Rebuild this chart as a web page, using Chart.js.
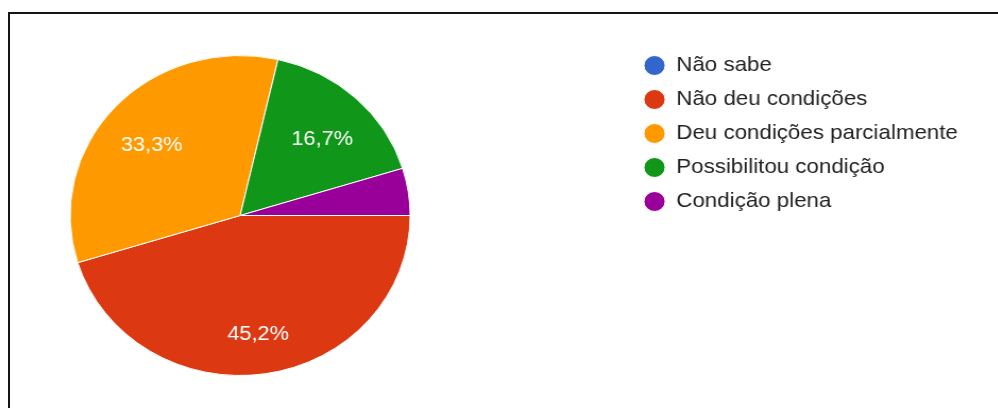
<!DOCTYPE html>
<html>
<head>
<meta charset="utf-8">
<script src="https://cdn.jsdelivr.net/npm/chart.js@4.4.1/dist/chart.umd.min.js"></script>
<style>
    html, body {
        margin: 0;
        padding: 0;
        width: 998px;
        height: 408px;
        overflow: hidden;
        background: #fff;
    }
    .frame {
        position: absolute;
        left: 8px;
        top: 12px;
        width: 1100px;
        height: 500px;
        border: 2px solid #151515;
    }
    .stretch {
        position: absolute;
        left: 0;
        top: 0;
        width: 940px;
        height: 408px;
        transform: scaleX(1.0625);
        transform-origin: 0 0;
    }
    .chart-box {
        position: absolute;
        left: -141px;
        top: 0;
        width: 1080px;
        height: 408px;
    }
</style>
</head>
<body>
<div class="frame"></div>
<div class="stretch">
    <div class="chart-box"><canvas id="pieChart"></canvas></div>
</div>
<script>
const LABELS = [
    'Não sabe',
    'Não deu condições',
    'Deu condições parcialmente',
    'Possibilitou condição',
    'Condição plena'
]

// number of answers per option (42 in total)
const ANSWERS = [0, 19, 14, 7, 2]

const COLORS = [
    '#3366cc',
    '#dc3912',
    '#ff9900',
    '#109618',
    '#990099'
]

const FONT = "'Liberation Sans', Arial, sans-serif";
const LABEL_SIZE = 20.5;

/** formatPercent: 45.238 -> "45,2%" */
function formatPercent(value, total) {
    return (value / total * 100).toFixed(1).replace('.', ',') + '%';
}

// writes the percentage inside every slice big enough to hold it
const sliceLabels = {
    id: 'sliceLabels',
    afterDatasetsDraw(chart) {
        const ctx = chart.ctx;
        const meta = chart.getDatasetMeta(0);
        const values = chart.data.datasets[0].data;
        const total = values.reduce((a, b) => a + b, 0);

        ctx.save();
        ctx.fillStyle = '#ffffff';
        ctx.font = `${LABEL_SIZE}px ${FONT}`;
        ctx.textAlign = 'center';
        ctx.textBaseline = 'alphabetic';
        meta.data.forEach((arc, i) => {
            if (values[i] / total < 0.05) return;
            const p = arc.getProps(['x', 'y', 'startAngle', 'endAngle', 'outerRadius'], true);
            const mid = (p.startAngle + p.endAngle) / 2;
            const r = p.outerRadius * 0.71;
            const x = p.x + Math.cos(mid) * r;
            const y = p.y + Math.sin(mid) * r + LABEL_SIZE * 0.6;
            ctx.fillText(formatPercent(values[i], total), x, y);
        });
        ctx.restore();
    }
};

const pieChart = new Chart(document.getElementById('pieChart'), {
    type: 'pie',
    data: {
        labels: LABELS,
        datasets: [{
            data: ANSWERS,
            backgroundColor: COLORS,
            borderColor: '#ffffff',
            borderWidth: 1
        }]
    },
    options: {
        responsive: true,
        maintainAspectRatio: false,
        animation: false,
        events: [],
        rotation: 90,
        radius: 160,
        layout: {
            padding: {left: 0, top: 42, right: 27.5, bottom: 19}
        },
        plugins: {
            tooltip: {enabled: false},
            legend: {
                position: 'right',
                align: 'start',
                labels: {
                    usePointStyle: true,
                    pointStyle: 'circle',
                    boxWidth: 20,
                    boxHeight: 14.14,
                    padding: 13,
                    color: '#222222',
                    font: {family: FONT, size: 21}
                }
            }
        }
    },
    plugins: [sliceLabels]
});
</script>
</body>
</html>
